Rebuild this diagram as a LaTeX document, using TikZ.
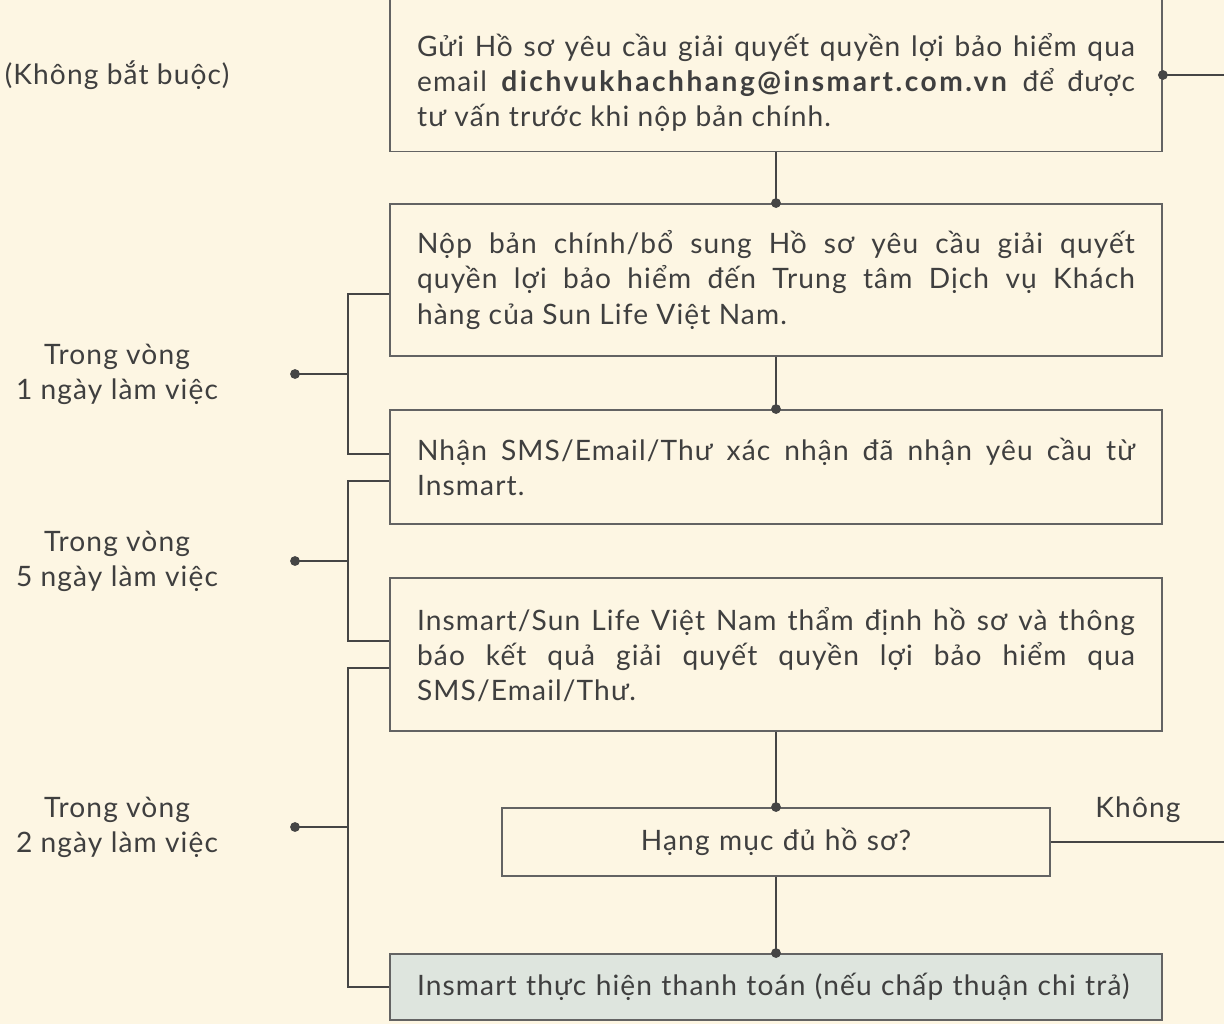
\documentclass[tikz,border=0pt]{standalone}
\usepackage{fontspec}
\setmainfont{Lato}[LetterSpace=4, BoldFeatures={LetterSpace=9}]
\usetikzlibrary{arrows.meta,positioning}

\definecolor{bgcol}{HTML}{FDF6E3}
\definecolor{paycol}{HTML}{DEE5DE}
\definecolor{boxline}{HTML}{636363}
\definecolor{wire}{HTML}{454545}
\definecolor{txt}{HTML}{3F3F3F}

\begin{document}
\begin{tikzpicture}[x=0.02cm, y=-0.02cm,
  stepbox/.style={draw=boxline, line width=1.1pt, fill=bgcol, text width=14.36cm, inner xsep=0.54cm, inner ysep=0pt, align=justify, font=\fontsize{16}{20}\selectfont, text=txt},
  askbox/.style={stepbox, text width=9.88cm, align=center},
  side/.style={align=center, font=\fontsize{16}{20}\selectfont, text=txt},
  wire/.style={draw=wire, line width=1.1pt},
  dotend/.style={wire, -{Circle[length=5.5pt]}, shorten >=-2.75pt},
  dotstart/.style={wire, {Circle[length=5.5pt]}-, shorten <=-2.75pt}
]
\fill[bgcol] (0,0) rectangle (1224,1024);
\clip (0,0) rectangle (1224,1024);

% Steps
\node[stepbox, minimum height=3.06cm] (send) at (776,75) {\rule{0pt}{21.5pt}Gửi Hồ sơ yêu cầu giải quyết quyền lợi bảo hiểm qua\linebreak email \textbf{dichvukhachhang@insmart.com.vn} để được\linebreak tư vấn trước khi nộp bản chính.};
\node[stepbox, minimum height=3.04cm] (submit) at (776,280) {Nộp bản chính/bổ sung Hồ sơ yêu cầu giải quyết\linebreak quyền lợi bảo hiểm đến Trung tâm Dịch vụ Khách\linebreak hàng của Sun Life Việt Nam.};
\node[stepbox, minimum height=2.28cm] (ack) at (776,467) {Nhận SMS/Email/Thư xác nhận đã nhận yêu cầu từ\linebreak Insmart.};
\node[stepbox, minimum height=3.06cm] (review) at (776,654.5) {Insmart/Sun Life Việt Nam thẩm định hồ sơ và thông\linebreak báo kết quả giải quyết quyền lợi bảo hiểm qua\linebreak SMS/Email/Thư.};
\node[askbox, minimum height=1.36cm] (check) at (776,842) {Hạng mục đủ hồ sơ?};
\node[stepbox, fill=paycol, align=left, minimum height=1.32cm] (pay) at (776,987) {Insmart thực hiện thanh toán (nếu chấp thuận chi trả)};

% Time labels
\node[side] (opt)   at (117,75)  {(Không bắt buộc)};
\node[side] (day1)  at (117,374) {Trong vòng\\1 ngày làm việc};
\node[side] (day5)  at (117,561) {Trong vòng\\5 ngày làm việc};
\node[side] (day2)  at (117,827) {Trong vòng\\2 ngày làm việc};
\node[side, anchor=south] (no) at (1138,829) {Không};

% Vertical flow
\draw[dotend] (send) -- (submit.north);
\draw[dotend] (submit) -- (ack.north);
\draw[dotend] (review) -- (check.north);
\draw[dotend] (check) -- (pay.north);

% Exits on the right
\coordinate (out1) at (1224,75);
\coordinate (out2) at (1224,842);
\draw[dotstart] (send.east) -- (out1);
\draw[wire] (check.east) -- (out2);

% Brackets on the left
\coordinate (j1) at (348,374);
\coordinate (j2) at (348,561);
\coordinate (j3) at (348,827);
\coordinate (p1) at (295,374);
\coordinate (p2) at (295,561);
\coordinate (p3) at (295,827);
\draw[wire] ([yshift=-0.28cm]submit.west) -| (j1) |- ([yshift=0.26cm]ack.west);
\draw[wire] ([yshift=-0.28cm]ack.west) -| (j2) |- ([yshift=0.27cm]review.west);
\draw[wire] ([yshift=-0.27cm]review.west) -| (j3) |- (pay.west);
\foreach \p/\j in {p1/j1,p2/j2,p3/j3} \draw[dotstart] (\p) -- (\j);
\end{tikzpicture}
\end{document}
